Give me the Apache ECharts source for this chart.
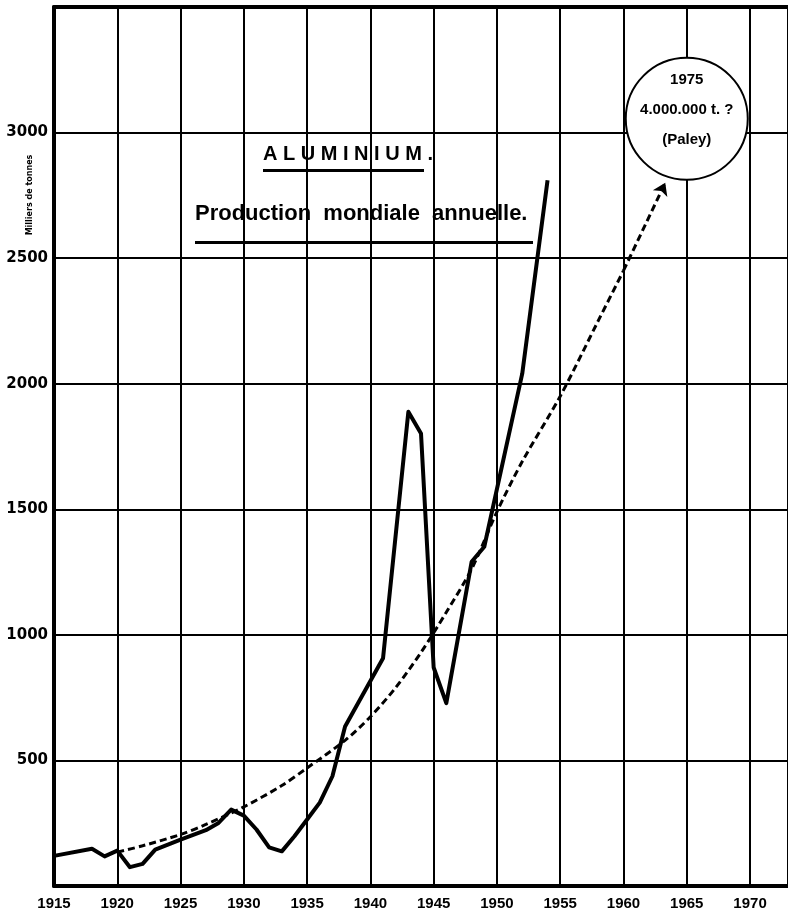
<!DOCTYPE html>
<html>
<head>
<meta charset="utf-8">
<script src="https://cdn.jsdelivr.net/npm/echarts@6/dist/echarts.min.js"></script>
<style>
html,body{margin:0;padding:0;background:#fff;}
#chart{width:788px;height:913px;}
</style>
</head>
<body>
<div id="chart"></div>
<script>
// Production mondiale annuelle (milliers de tonnes)
const prodYears  = [1915,1918,1919,1920,1921,1922,1923,1925,1927,1928,1929,1930,1931,1932,1933,1934,1935,1936,1937,1938,1941,1943,1944,1945,1946,1948,1949,1952,1954];
const prodValues = [ 120, 148, 118, 141,  75,  88, 145, 185, 222, 251, 304, 280, 225, 154, 138, 198, 265, 332, 437, 635, 907,1888,1802, 870, 728,1291,1351,2040,2810];

// Projection (courbe en tirets, terminée par une flèche)
const projYears  = [1920,1922,1925,1927,1930,1933,1935,1938,1940,1942,1944,1946,1948,1950,1952,1955,1958,1960,1963.3];
const projValues = [ 135, 160, 205, 245, 315, 400, 470, 580, 674, 790, 930,1090,1262,1490,1690,1950,2250,2450,2800];

// Annotation
const noteYear = 1965, noteValue = 3055;
const noteLines = ['1975', '4.000.000 t. ?', '(Paley)'];

const xTicks = [1915,1920,1925,1930,1935,1940,1945,1950,1955,1960,1965,1970];
const yTicks = [500,1000,1500,2000,2500,3000];

const titleText = 'A L U M I N I U M .';
const subtitleText = 'Production  mondiale  annuelle.';
const yName = 'Milliers de tonnes';

const zip = (a, b) => a.map((v, i) => [v, b[i]]);
const n = projYears.length;

const chart = echarts.init(document.getElementById('chart'), null, {renderer: 'canvas'});
chart.setOption({
  animation: false,
  backgroundColor: '#fff',
  grid: {left: 54, right: 0, top: 7, bottom: 27, containLabel: false},
  xAxis: [{
    type: 'value', min: 1915, max: 1973, interval: 5,
    axisLine: {show: true, lineStyle: {color: '#000', width: 4}},
    axisTick: {show: false},
    axisLabel: {
      margin: 10, color: '#000', fontSize: 15, fontWeight: 'bold',
      fontFamily: '"Liberation Sans Narrow","Liberation Sans",Arial,sans-serif',
      formatter: v => xTicks.includes(v) ? String(v) : '',
      showMaxLabel: false
    },
    splitLine: {show: true, lineStyle: {color: '#000', width: 2}}
  }, {
    type: 'value', min: 1915, max: 1973, position: 'top',
    axisLine: {show: true, onZero: false, lineStyle: {color: '#000', width: 4}},
    axisTick: {show: false}, axisLabel: {show: false}, splitLine: {show: false}
  }],
  yAxis: {
    type: 'value', min: 0, max: 3500, interval: 500,
    axisLine: {show: true, lineStyle: {color: '#000', width: 4}},
    axisTick: {show: false},
    axisLabel: {
      margin: 6, color: '#000', fontSize: 15, fontWeight: 'bold',
      fontFamily: '"DejaVu Sans",sans-serif',
      formatter: v => yTicks.includes(v) ? String(v) : ''
    },
    splitLine: {show: true, lineStyle: {color: '#000', width: 2}}
  },
  graphic: [
    {type: 'text', left: 263, top: 144, z: 100,
     style: {text: titleText, fill: '#000', font: 'bold 20px "Liberation Sans", Arial, sans-serif'}},
    {type: 'rect', shape: {x: 263, y: 169, width: 161, height: 3}, style: {fill: '#000'}, z: 100},
    {type: 'text', left: 195, top: 203, z: 100,
     style: {text: subtitleText, fill: '#000', font: 'bold 22px "Liberation Sans", Arial, sans-serif'}},
    {type: 'rect', shape: {x: 195, y: 241, width: 338, height: 3}, style: {fill: '#000'}, z: 100},
    {type: 'text', x: 30, y: 195, rotation: Math.PI / 2, z: 100,
     style: {text: yName, fill: '#000', font: 'bold 8px "DejaVu Sans", sans-serif', textAlign: 'center', textVerticalAlign: 'middle'}}
  ],
  series: [
    {
      name: 'Production', type: 'line', data: zip(prodYears, prodValues),
      symbol: 'none', lineStyle: {color: '#000', width: 4, join: 'round'}, z: 5
    },
    {
      name: 'Projection', type: 'line', data: zip(projYears.slice(0, n - 1), projValues.slice(0, n - 1)),
      symbol: 'none', smooth: 0.3,
      lineStyle: {color: '#000', width: 3, type: [7, 4]}, z: 4,
      markLine: {
        silent: true, symbol: ['none', 'arrow'], symbolSize: 12,
        label: {show: false},
        itemStyle: {color: '#000'},
        lineStyle: {color: '#000', width: 3, type: [7, 4]},
        data: [[{coord: [projYears[n - 2], projValues[n - 2]]}, {coord: [projYears[n - 1], projValues[n - 1]]}]]
      }
    },
    {
      name: 'Note', type: 'scatter', data: [[noteYear, noteValue]],
      symbol: 'circle', symbolSize: 122, z: 10,
      itemStyle: {color: '#fff', borderColor: '#000', borderWidth: 2, opacity: 1},
      label: {
        show: true, position: 'inside', offset: [0, -9], color: '#000',
        fontSize: 15, fontWeight: 'bold', fontFamily: '"Liberation Sans", Arial, sans-serif',
        lineHeight: 30, formatter: noteLines.join('\n')
      }
    }
  ]
});
</script>
</body>
</html>
